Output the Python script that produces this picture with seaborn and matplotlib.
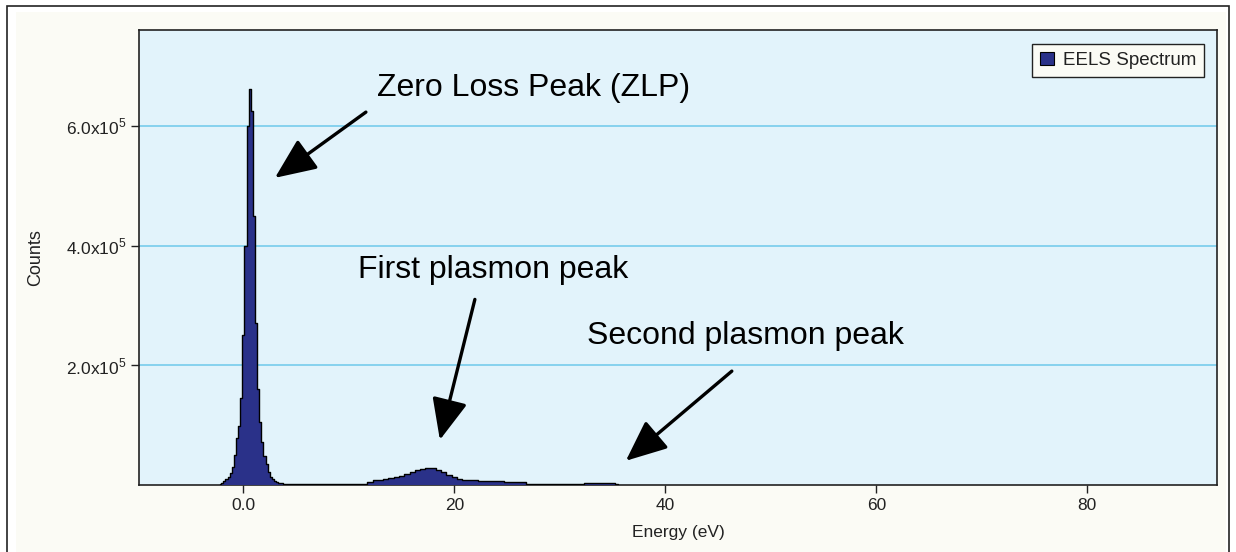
import numpy as np
import matplotlib
matplotlib.use("Agg")
import matplotlib.pyplot as plt
from matplotlib.patches import Rectangle, Patch
import seaborn as sns

# ---- data ----
zlp_energy = [-2.2, -2.0, -1.8, -1.6, -1.4, -1.2, -1.0, -0.8, -0.6, -0.4, -0.2, 0.0,
              0.2, 0.4, 0.6, 0.8, 1.0, 1.2, 1.4, 1.6, 1.8, 2.0, 2.2, 2.4, 2.6, 2.8,
              3.0, 3.2, 3.4]
zlp_counts = [2e3, 4e3, 7e3, 10e3, 14e3, 20e3, 30e3, 50e3, 78e3, 99e3, 145e3, 250e3,
              400e3, 600e3, 662e3, 625e3, 450e3, 270e3, 160e3, 105e3, 72e3, 48e3,
              35e3, 22e3, 14e3, 10e3, 7e3, 5e3, 3.5e3]

loss_energy = [3.5, 4.0, 4.5, 5.0, 5.5, 6.0, 6.5, 7.0, 7.5, 8.0, 8.5, 9.0, 9.5, 10.0,
               10.5, 11.0, 11.5, 12.0, 12.5, 13.0, 13.5, 14.0, 14.5, 15.0, 15.5, 16.0,
               16.5, 17.0, 17.5, 18.0, 18.5, 19.0, 19.5, 20.0, 20.5, 21.0, 21.5, 22.0,
               22.5, 23.0, 23.5, 24.0, 24.5, 25.0, 25.5, 26.0, 26.5, 27.0, 27.5, 28.0,
               28.5, 29.0, 29.5, 30.0, 30.5, 31.0, 31.5, 32.0, 32.5, 33.0, 33.5, 34.0,
               34.5, 35.0, 35.5]
loss_counts = [3e3, 2.5e3, 2.5e3, 2e3, 2e3, 2e3, 2e3, 2e3, 2e3, 2e3, 2e3, 2e3, 2e3, 2e3,
               2e3, 2e3, 2.5e3, 5e3, 8e3, 9e3, 10e3, 11e3, 13e3, 15e3, 18e3, 21e3,
               25e3, 27.5e3, 28e3, 28e3, 25e3, 21e3, 17e3, 13e3, 10.5e3, 9e3, 8.5e3, 8e3,
               7e3, 6e3, 6e3, 6e3, 6e3, 5.5e3, 5.5e3, 5e3, 5e3, 1.5e3, 1.5e3, 1.5e3,
               1.5e3, 1.5e3, 1.5e3, 1.5e3, 1.5e3, 1.5e3, 1.5e3, 1.5e3, 4e3, 4e3, 4e3, 4e3,
               4e3, 4e3, 1.5e3]

y_ticks = [2e5, 4e5, 6e5]
y_tick_labels = [r"2.0x10$^5$", r"4.0x10$^5$", r"6.0x10$^5$"]
x_ticks = [0, 20, 40, 60, 80]
x_tick_labels = ["0.0", "20", "40", "60", "80"]

series_name = "EELS Spectrum"
annotations = ["Zero Loss Peak (ZLP)", "First plasmon peak", "Second plasmon peak"]

energy = np.array(zlp_energy + loss_energy)
counts = np.array(zlp_counts + loss_counts)

# ---- style ----
sns.set_style("ticks")
plt.rcParams['font.family'] = ['Liberation Sans', 'DejaVu Sans']
plt.rcParams['mathtext.fontset'] = 'custom'
plt.rcParams['mathtext.rm'] = 'Liberation Sans'
plt.rcParams['text.color'] = 'black'

W, H = 1236, 552
fig = plt.figure(figsize=(W / 100, H / 100), dpi=100)
fig.patch.set_facecolor("white")

def px_rect(x0, y0, x1, y1, **kw):
    return Rectangle((x0 / W, 1 - y1 / H), (x1 - x0) / W, (y1 - y0) / H,
                     transform=fig.transFigure, **kw)

fig.add_artist(px_rect(7, 6, 1229, 560, facecolor="white", edgecolor="#222222", lw=1.2, zorder=0))
fig.add_artist(px_rect(16, 12, 1226, 560, facecolor="#FBFBF5", edgecolor="none", zorder=0))

ax = fig.add_axes([139 / W, 1 - 485 / H, (1217 - 139) / W, (485 - 30) / H])
ax.set_facecolor("#E2F3FB")

navy = "#2A3189"
ax.fill_between(energy, counts, 0, step="mid", color=navy, lw=0, zorder=3)
sns.lineplot(x=energy, y=counts, ax=ax, drawstyle="steps-mid", color="black",
             lw=1.0, zorder=4, legend=False)

ax.set_xlim(-9.9, 92.3)
ax.set_ylim(0, 7.6e5)
ax.set_xticks(x_ticks)
ax.set_xticklabels(x_tick_labels)
ax.set_yticks(y_ticks)
ax.set_yticklabels(y_tick_labels)
ax.tick_params(axis="both", direction="out", length=6, width=1, color="#222222",
               labelsize=12.5, labelcolor="#222222", pad=3)
for s in ax.spines.values():
    s.set_color("#222222")
    s.set_linewidth(1.2)
    s.set_visible(True)
ax.grid(axis="y", color="#86D2EE", lw=1.4, zorder=1)
ax.set_axisbelow(True)

ax.set_xlabel("Energy (eV)", fontsize=12.5, color="#222222", labelpad=9)
ax.set_ylabel("Counts", fontsize=13, color="#222222", labelpad=16)

# legend
handle = Patch(facecolor=navy, edgecolor="black", lw=0.8, label=series_name)
leg = ax.legend(handles=[handle], loc="upper right", fontsize=13.5, frameon=True,
                fancybox=False, edgecolor="#222222", facecolor="#FBFBF5", framealpha=1,
                handlelength=0.75, handleheight=0.75, borderpad=0.4, handletextpad=0.5,
                bbox_to_anchor=(0.988, 0.969), borderaxespad=0)
leg.get_frame().set_linewidth(1.0)
leg.get_texts()[0].set_color("#222222")

# annotations
def ev(x):
    return (x - 243.5) / 10.55

def cnt(y):
    return (486.3 - y) * 1664.0

arrow_kw = dict(arrowstyle="-|>,head_length=1.15,head_width=0.5", color="black",
                lw=2.4, mutation_scale=22, shrinkA=0, shrinkB=0)

ax.text(ev(377), cnt(88), annotations[0], fontsize=23, va="center", ha="left",
        color="black", zorder=6)
ax.annotate("", xy=(ev(275), cnt(178)), xytext=(ev(366), cnt(112)), arrowprops=arrow_kw, zorder=6)

ax.text(ev(358), cnt(270), annotations[1], fontsize=23, va="center", ha="left",
        color="black", zorder=6)
ax.annotate("", xy=(ev(440), cnt(441)), xytext=(ev(475), cnt(300)), arrowprops=arrow_kw, zorder=6)

ax.text(ev(587), cnt(337), annotations[2], fontsize=23, va="center", ha="left",
        color="black", zorder=6)
ax.annotate("", xy=(ev(626), cnt(462)), xytext=(ev(732), cnt(372)), arrowprops=arrow_kw, zorder=6)

fig.savefig("out.png", dpi=100)
